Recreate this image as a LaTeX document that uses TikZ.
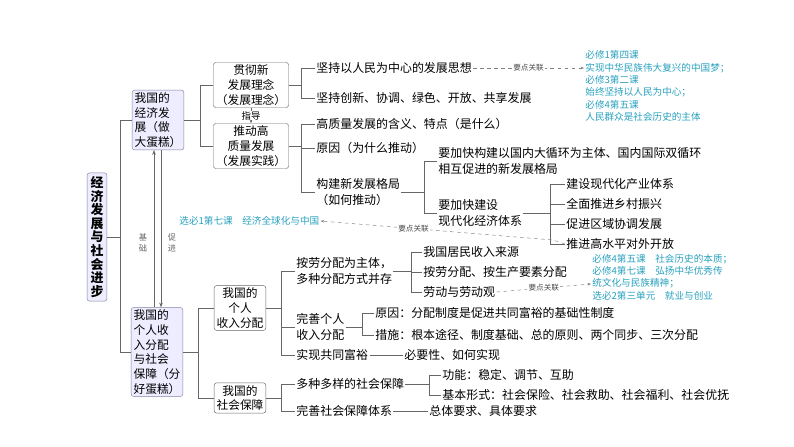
\documentclass[tikz,border=0pt]{standalone}
\usepackage{fontspec}
\setmainfont{Noto Sans CJK SC}
\usetikzlibrary{arrows.meta,positioning}
\definecolor{notecol}{RGB}{40,160,190}
\tikzset{
  box/.style={draw=black!60,rounded corners=2pt,align=center,inner sep=2pt,font=\fontsize{10}{12.5}\selectfont},
  mainbox/.style={box,fill=blue!7,draw=blue!25!black!50},
  item/.style={anchor=west,align=left,inner sep=1pt,font=\fontsize{10.2}{13.5}\selectfont},
  note/.style={anchor=west,align=left,inner sep=1pt,text=notecol,font=\fontsize{8.2}{10.5}\selectfont},
  link/.style={draw=black!60,thin},
  rel/.style={draw=black!50,dashed,-{Stealth[length=3pt]}},
  rellab/.style={font=\fontsize{6.5}{7}\selectfont,text=black!70,fill=white,inner sep=1pt}
}
\begin{document}
\begin{tikzpicture}[x=0.03cm,y=-0.03cm]
  \useasboundingbox (0,0) rectangle (794,446);
  % main boxes
  \node[mainbox,font=\fontsize{11}{11.6}\selectfont\bfseries,inner sep=3pt] (root) at (97,237) {经\\济\\发\\展\\与\\社\\会\\进\\步};
  \node[mainbox,align=left] (econ) at (158,120) {我国的\\经济发\\展（做\\大蛋糕）};
  \node[mainbox,align=left] (dist) at (157,352) {我国的\\个人收\\入分配\\与社会\\保障（分\\好蛋糕）};
  \coordinate (j0) at (120,0);
  \draw[link] (root.east) -- (root.east -| j0) |- (econ.west);
  \draw[link] (root.east -| j0) |- (dist.west);
  % econ and dist relation
  \draw[link,-{Stealth[length=4pt]}] (dist.north -| 154,0) coordinate (d1) -- (econ.south -| 154,0);
  \draw[link,-{Stealth[length=4pt]}] (econ.south -| 161,0) -- (dist.north -| 161,0);
  \node[font=\fontsize{7}{9}\selectfont,text=black!60,align=center] (jc) at (143,243) {基\\础};
  \node[font=\fontsize{7}{9}\selectfont,text=black!60,align=center] (cj) at (172,243) {促\\进};
  % econ branch
  \node[box] (idea) at (251,85) {贯彻新\\发展理念\\（发展理念）};
  \node[box] (prac) at (251,146) {推动高\\质量发展\\（发展实践）};
  \coordinate (j1) at (200,0);
  \draw[link] (econ.east) -- (econ.east -| j1) |- (idea.west);
  \draw[link] (econ.east -| j1) |- (prac.west);
  \draw[link,-{Stealth[length=3pt]}] (idea) -- node[fill=white,inner sep=0pt,font=\fontsize{8}{9}\selectfont] {指导} (prac);
  \coordinate (j2) at (301,0);
  \node[item] (i1) at (315,68) {坚持以人民为中心的发展思想};
  \node[item] (i2) at (315,98) {坚持创新、协调、绿色、开放、共享发展};
  \foreach \n in {i1,i2} \draw[link] (idea.east) -- (idea.east -| j2) |- (\n.west);
  \node[item] (p1) at (315,124) {高质量发展的含义、特点（是什么）};
  \node[item] (p2) at (315,148) {原因（为什么推动）};
  \node[item] (p3) at (315,192) {构建新发展格局\\（如何推动）};
  \foreach \n in {p1,p2,p3} \draw[link] (prac.east) -- (prac.east -| j2) |- (\n.west);
  \coordinate (j3) at (424,0);
  \node[item] (g1) at (437,161) {要加快构建以国内大循环为主体、国内国际双循环\\相互促进的新发展格局};
  \node[item] (g2) at (437,213) {要加快建设\\现代化经济体系};
  \foreach \n in {g1,g2} \draw[link] (p3.east) -- (p3.east -| j3) |- (g2.west |- \n.west);
  \coordinate (j4) at (550,0);
  \node[item] (m1) at (565,184) {建设现代化产业体系};
  \node[item] (m2) at (565,204) {全面推进乡村振兴};
  \node[item] (m3) at (565,224) {促进区域协调发展};
  \node[item] (m4) at (565,244) {推进高水平对外开放};
  \foreach \n in {m1,m2,m3,m4} \draw[link] (g2.east) -- (g2.east -| j4) |- (\n.west);
  % notes
  \node[note] (n1) at (584,86) {必修1第四课\\实现中华民族伟大复兴的中国梦；\\必修3第二课\\始终坚持以人民为中心；\\必修4第五课\\人民群众是社会历史的主体};
  \draw[rel] (i1.east) -- node[rellab] {要点关联} (n1.west |- i1.east);
  \node[note] (n2) at (178,221) {选必1第七课\quad 经济全球化与中国};
  \draw[rel] (m4.west) -- (553,240) -- node[rellab,pos=0.6] {要点关联} (n2.east);
  % dist branch
  \node[box] (inc) at (240,308) {我国的\\个人\\收入分配};
  \node[box] (sec) at (240,398) {我国的\\社会保障};
  \coordinate (j5) at (198,0);
  \foreach \n in {inc,sec} \draw[link] (dist.east) -- (dist.east -| j5) |- (\n.west);
  \coordinate (j6) at (281,0);
  \node[item] (e1) at (295,271) {按劳分配为主体，\\多种分配方式并存};
  \node[item] (e2) at (295,327) {完善个人\\收入分配};
  \node[item] (e3) at (295,355) {实现共同富裕};
  \foreach \n in {e1,e2,e3} \draw[link] (inc.east) -- (inc.east -| j6) |- (\n.west);
  \node[item] (e3a) at (403,355) {必要性、如何实现};
  \draw[link] (e3) -- (e3a);
  \coordinate (j7) at (411,0);
  \node[item] (b1) at (422,252) {我国居民收入来源};
  \node[item] (b2) at (422,272) {按劳分配、按生产要素分配};
  \node[item] (b3) at (422,292) {劳动与劳动观};
  \foreach \n in {b1,b2,b3} \draw[link] (e1.east) -- (e1.east -| j7) |- (\n.west);
  \node[note] (n3) at (591,277) {必修4第五课\quad 社会历史的本质；\\必修4第七课\quad 弘扬中华优秀传\\统文化与民族精神；\\选必2第三单元\quad 就业与创业};
  \draw[rel] (b3.east) -- node[rellab] {要点关联} (n3.west |- 0,284);
  \coordinate (j8) at (362,0);
  \node[item] (w1) at (374,313) {原因：分配制度是促进共同富裕的基础性制度};
  \node[item] (w2) at (374,335) {措施：根本途径、制度基础、总的原则、两个同步、三次分配};
  \foreach \n in {w1,w2} \draw[link] (e2.east) -- (e2.east -| j8) |- (\n.west);
  \node[item] (s1) at (295,384) {多种多样的社会保障};
  \node[item] (s2) at (295,411) {完善社会保障体系};
  \foreach \n in {s1,s2} \draw[link] (sec.east) -- (sec.east -| j6) |- (\n.west);
  \node[item] (s2a) at (428,411) {总体要求、具体要求};
  \draw[link] (s2) -- (s2a);
  \coordinate (j9) at (429,0);
  \node[item] (f1) at (441,375) {功能：稳定、调节、互助};
  \node[item] (f2) at (441,395) {基本形式：社会保险、社会救助、社会福利、社会优抚};
  \foreach \n in {f1,f2} \draw[link] (s1.east) -- (s1.east -| j9) |- (\n.west);
\end{tikzpicture}
\end{document}
